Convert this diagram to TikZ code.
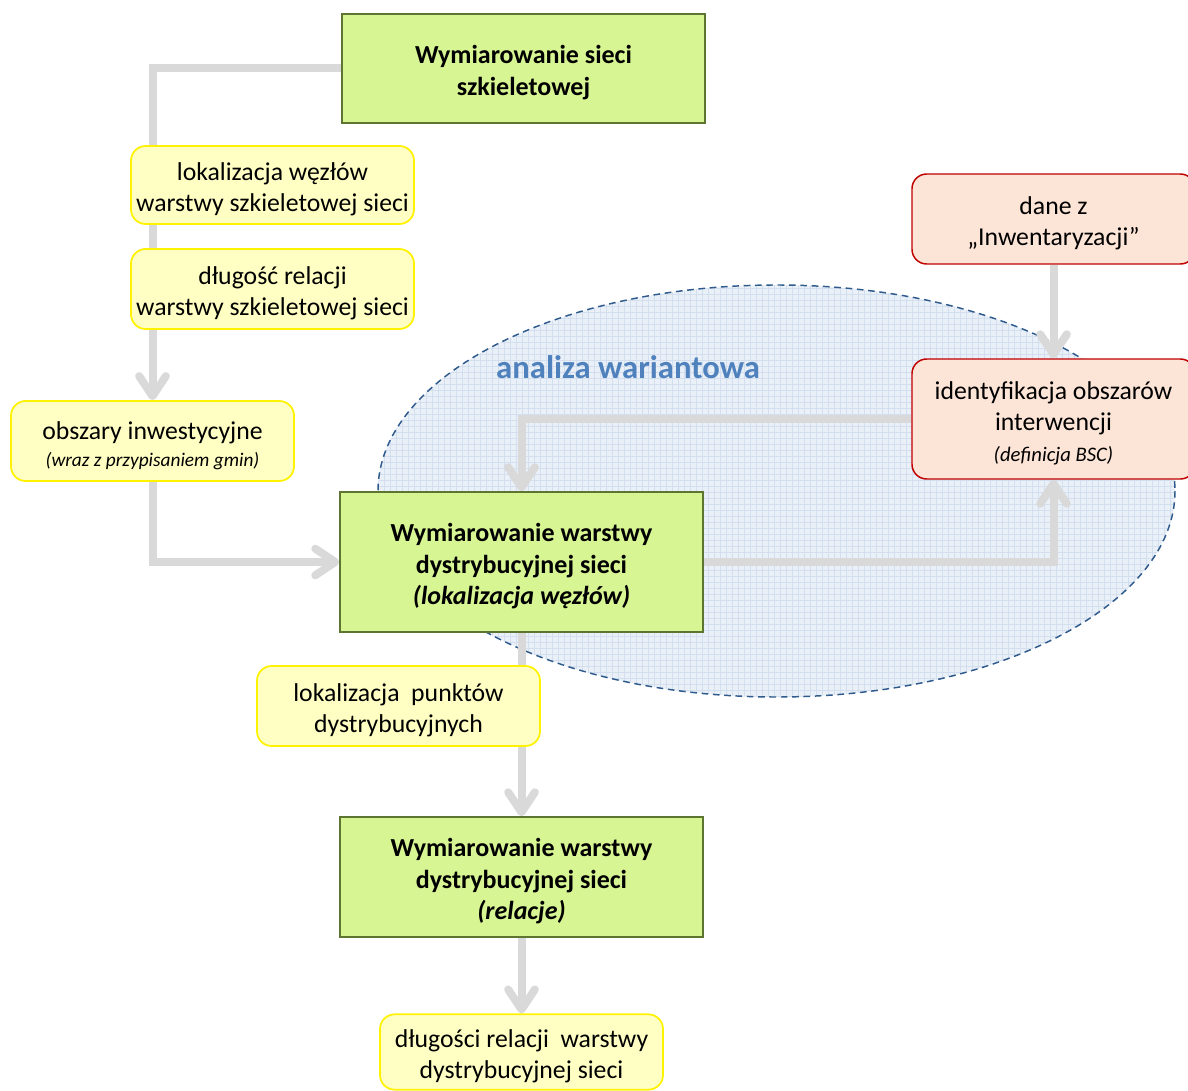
\documentclass[tikz,border=0pt]{standalone}
\usepackage{fontspec}
\setmainfont{Carlito}
\usetikzlibrary{arrows.meta,backgrounds}
\definecolor{gfill}{HTML}{D8F593}
\definecolor{gdraw}{HTML}{5E7532}
\definecolor{yfill}{HTML}{FFFFC4}
\definecolor{ydraw}{HTML}{FFF200}
\definecolor{rfill}{HTML}{FCE4D6}
\definecolor{rdraw}{HTML}{C00000}
\definecolor{conncol}{HTML}{D9D9D9}
\definecolor{ellfill}{HTML}{EAF0F8}
\definecolor{ellgrid}{HTML}{D3DEEF}
\definecolor{elldraw}{HTML}{2F5A8C}
\definecolor{titlecol}{HTML}{4F81BD}
\newcommand{\toppad}{\rule{0pt}{20pt}}
\tikzset{
  txt/.style={font=\fontsize{19.3}{23.5}\selectfont, align=center, text=black},
  greenbox/.style={txt, draw=gdraw, fill=gfill, line width=1.1pt, inner sep=0pt, font=\fontsize{19.5}{23.5}\selectfont\bfseries},
  yellowbox/.style={txt, draw=ydraw, fill=yfill, line width=1.3pt, rounded corners=11pt, inner sep=0pt},
  redbox/.style={txt, draw=rdraw, fill=rfill, line width=1.1pt, rounded corners=11pt, inner sep=0pt},
  conn/.style={draw=conncol, line width=6pt, -{Straight Barb[length=15pt,width=20pt,round]}},
}
\begin{document}
\begin{tikzpicture}[x=0.75pt,y=-0.75pt]
\useasboundingbox (0,0) rectangle (1188,1091);

% nodes
\node[greenbox, minimum width=272.25pt, minimum height=81.75pt] (A) at (523.5,68.5) {\toppad Wymiarowanie sieci\\szkieletowej};
\node[yellowbox, minimum width=212.25pt, minimum height=58.5pt] (B) at (272.5,185) {\toppad lokalizacja węzłów\\warstwy szkieletowej sieci};
\node[yellowbox, minimum width=212.25pt, minimum height=60pt] (C) at (272.5,289) {\toppad długość relacji\\warstwy szkieletowej sieci};
\node[yellowbox, minimum width=212.25pt, minimum height=60pt] (D) at (152.5,441) {\toppad obszary inwestycyjne\\[-3pt]{\fontsize{14.5}{17}\selectfont\itshape (wraz z przypisaniem gmin)}};
\node[greenbox, minimum width=272.25pt, minimum height=105pt] (E) at (521.5,562) {\toppad Wymiarowanie warstwy\\dystrybucyjnej sieci\\{\itshape (lokalizacja węzłów)}};
\node[yellowbox, minimum width=212.25pt, minimum height=60pt] (F) at (398.5,706) {\toppad lokalizacja\ \ punktów\\dystrybucyjnych};
\node[greenbox, minimum width=272.25pt, minimum height=90pt] (G) at (521.5,877) {\toppad Wymiarowanie warstwy\\dystrybucyjnej sieci\\{\itshape (relacje)}};
\node[yellowbox, minimum width=212.25pt, minimum height=56.5pt] (H) at (521.5,1052) {\toppad długości relacji\ \ warstwy\\dystrybucyjnej sieci};
\node[redbox, minimum width=212.25pt, minimum height=67.5pt] (I) at (1053.5,219) {\toppad dane z\\„Inwentaryzacji”};
\node[redbox, minimum width=212.25pt, minimum height=90pt] (J) at (1053.5,419) {\toppad identyfikacja obszarów\\interwencji\\{\fontsize{15.5}{19}\selectfont\itshape (definicja BSC)}};
\node[font=\fontsize{24.5}{28}\selectfont\bfseries, text=titlecol] (title) at (628,367) {analiza wariantowa};

\begin{pgfonlayer}{background}
% ellipse region
\fill[ellfill] (776.5,491) ellipse [x radius=398.5, y radius=206];
\begin{scope}
  \clip (776.5,491) ellipse [x radius=398.5, y radius=206];
  \draw[ellgrid, line width=0.35pt, step=4.5pt] (378,284) grid (1176,698);
\end{scope}
\draw[elldraw, line width=1.1pt, dash pattern=on 5pt off 3.5pt] (776.5,491) ellipse [x radius=398.5, y radius=206];
% connectors
\draw[conn] (A.west) -| (D.north);
\draw[conn] (D.south) |- (E.west);
\draw[conn] (E.east) -| (J.south);
\draw[conn] (J.west) -| (E.north);
\draw[conn] (I.south) -- (J.north);
\draw[conn] (E.south) -- (G.north);
\draw[conn] (G.south) -- (H.north);
\end{pgfonlayer}
\end{tikzpicture}
\end{document}
